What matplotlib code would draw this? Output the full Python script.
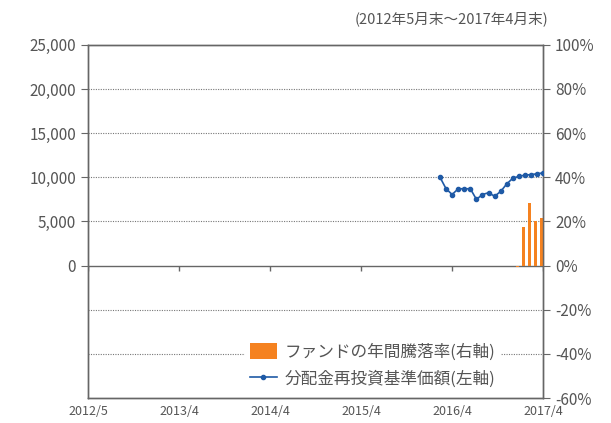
import matplotlib
matplotlib.use("Agg")
import matplotlib.pyplot as plt

plt.rcParams['font.family'] = ['Noto Sans CJK JP', 'DejaVu Sans']

# month index on x axis (0 = 2012/5 ... 75 = 2017/4)
tick_pos = [0, 15, 30, 45, 60, 75]
tick_labels = ["2012/5", "2013/4", "2014/4", "2015/4", "2016/4", "2017/4"]

nav_x = list(range(58, 76))
nav = [10000, 8700, 8050, 8700, 8700, 8700, 7500, 8050, 8250, 7850,
       8400, 9250, 9900, 10100, 10250, 10300, 10400, 10500]

ret_x = [71, 72, 73, 74, 75]
ret = [-0.5, 17.5, 28.4, 20.2, 21.5]

blue = "#1f5aa6"
orange = "#f58220"
grey = "#555555"

fig = plt.figure(figsize=(6.11, 4.23), dpi=100)
ax = fig.add_axes([0.144, 0.059, 0.745, 0.835])
ax2 = ax.twinx()

ax.set_xlim(0, 75)
ax.set_ylim(-15000, 25000)
ax2.set_ylim(-60, 100)

for y in [-40, -20, 20, 40, 60, 80]:
    ax2.axhline(y, color="#777777", lw=0.8, ls=(0, (1, 1.2)), zorder=0)
ax2.axhline(0, color="#666666", lw=1.0, zorder=1)
# small x tick marks on the zero line
ax2.vlines(tick_pos, -2.5, 0, color="#666666", lw=1.0)

b = ax2.bar(ret_x, ret, width=-0.55, align="edge", color=orange, zorder=2,
            label="ファンドの年間騰落率(右軸)")
ln, = ax2.plot(nav_x, [v / 250 for v in nav], color=blue, lw=1.2, marker="o",
               ms=3, zorder=3, label="分配金再投資基準価額(左軸)")

ax.set_yticks(range(0, 25001, 5000))
ax.set_yticklabels([f"{v:,}" for v in range(0, 25001, 5000)])
ax2.set_yticks(range(-60, 101, 20))
ax2.set_yticklabels([f"{v}%" for v in range(-60, 101, 20)])
ax.set_xticks(tick_pos)
ax.set_xticklabels(tick_labels)

for a in (ax, ax2):
    for s in a.spines.values():
        s.set_color("#666666")
        s.set_linewidth(1.0)
    a.tick_params(colors="#666666", labelcolor=grey, labelsize=11, length=5)
ax.tick_params(axis="x", labelsize=9, length=0, pad=5)

leg = ax2.legend(handles=[b, ln], loc="lower right", bbox_to_anchor=(0.925, -0.01),
                 frameon=True, fontsize=12, handlelength=1.6, handleheight=1.1,
                 handletextpad=0.5, borderpad=0.3, labelspacing=0.6)
leg.get_frame().set_edgecolor("none")
leg.get_frame().set_facecolor("white")
leg.get_frame().set_alpha(1)
for t in leg.get_texts():
    t.set_color(grey)

fig.text(0.897, 0.955, "(2012年5月末～2017年4月末)", ha="right", va="center",
         fontsize=10.5, color=grey)

fig.savefig("out.png", dpi=100)
